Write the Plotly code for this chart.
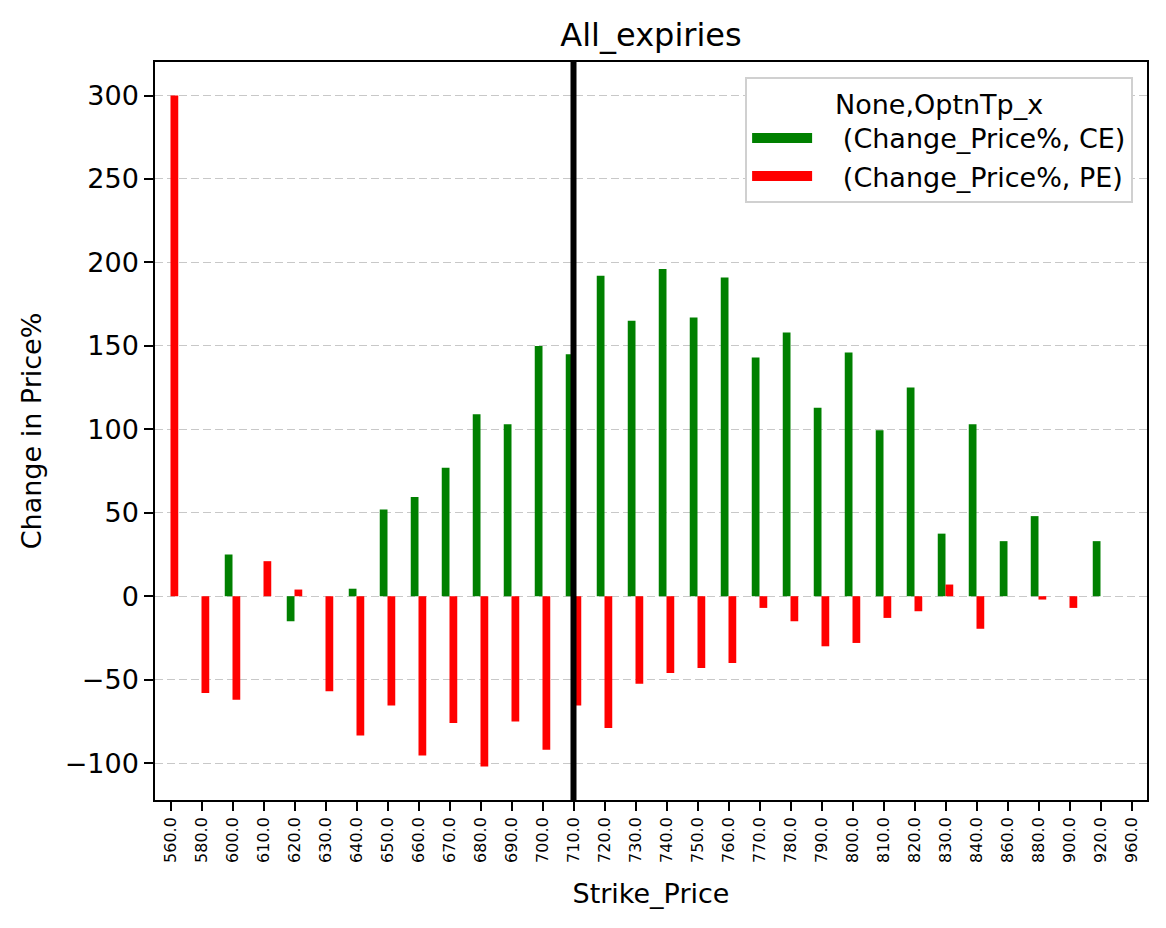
"""Change in option price per strike, CE vs PE, across all expiries."""

import plotly.graph_objects as go

PLOT_TITLE = "All_expiries"
XAXIS_TITLE = "Strike_Price"
YAXIS_TITLE = "Change in Price%"
LEGEND_TITLE = "None,OptnTp_x"
CE_NAME = "(Change_Price%, CE)"
PE_NAME = "(Change_Price%, PE)"
CE_COLOR = "green"
PE_COLOR = "red"
FONT = "DejaVu Sans"
BASE_SIZE = 27
TITLE_SIZE = 32
XTICK_SIZE = 16
LEGEND_PAD = "\u00a0\u00a0\u00a0"

strikes = [560, 580, 600, 610, 620, 630, 640, 650, 660, 670, 680, 690, 700,
           710, 720, 730, 740, 750, 760, 770, 780, 790, 800, 810, 820, 830,
           840, 860, 880, 900, 920, 960]
ce_change = [None, None, 25, None, -15, None, 4.5, 52, 59.5, 77, 109, 103, 150,
             145, 192, 165, 196, 167, 191, 143, 158, 113, 146, 99.5, 125, 37.5,
             103, 33, 48, None, 33, None]
pe_change = [300, -58, -62, 21, 4, -57, -83.5, -65.5, -95.5, -76, -102, -75,
             -92, -65.5, -79, -52.5, -46, -43, -40, -7, -15, -30, -28, -13, -9,
             7, -19.5, None, -2, -7, None, None]
current_strike = 710
y_ticks = [-100, -50, 0, 50, 100, 150, 200, 250, 300]

labels = [f"{s:.1f}" for s in strikes]
y_tick_text = [str(v).replace("-", "\u2212") for v in y_ticks]

fig = go.Figure()
for name, values, color in [(CE_NAME, ce_change, CE_COLOR),
                            (PE_NAME, pe_change, PE_COLOR)]:
    fig.add_trace(go.Bar(x=labels, y=values, name=name, legendgroup=name,
                         showlegend=False, marker_color=color,
                         marker_line_width=0))
    # Empty line trace, only there for a wide matplotlib-like legend patch.
    fig.add_trace(go.Scatter(x=[None], y=[None], mode="lines",
                             name=LEGEND_PAD + name, legendgroup=name,
                             line={"color": color, "width": 18}))

# Thick line marking the current strike.
fig.add_shape(type="line", xref="x", yref="paper",
              x0=strikes.index(current_strike), x1=strikes.index(current_strike),
              y0=0, y1=1, line={"color": "black", "width": 6})

# The page puts the figure 8px in from the top-left corner.
fig.update_layout(
    width=1158,
    height=920,
    margin={"l": 147, "r": 19, "t": 54, "b": 128},
    paper_bgcolor="white",
    plot_bgcolor="white",
    font={"family": FONT, "color": "black", "size": BASE_SIZE},
    title={"text": PLOT_TITLE, "x": 0.5, "xref": "paper", "xanchor": "center",
           "y": 0.971, "yanchor": "middle", "font": {"size": TITLE_SIZE}},
    barmode="group",
    bargap=0.5,
    bargroupgap=0,
    legend={
        "title": {"text": LEGEND_TITLE, "side": "top center",
                  "font": {"family": FONT, "size": BASE_SIZE}},
        "x": 0.986, "xanchor": "right",
        "y": 0.98, "yanchor": "top",
        "bgcolor": "white",
        "bordercolor": "#d0d0d0",
        "borderwidth": 2,
        "font": {"size": BASE_SIZE},
        "itemwidth": 60,
        "tracegroupgap": 0,
    },
)

fig.update_xaxes(
    type="category",
    range=[-0.5, len(strikes) - 0.5],
    title={"text": XAXIS_TITLE, "font": {"size": BASE_SIZE}, "standoff": 22},
    tickangle=-90,
    tickfont={"size": XTICK_SIZE},
    ticks="outside",
    ticklen=9,
    tickwidth=1.5,
    tickcolor="black",
    showline=True,
    linecolor="black",
    linewidth=1.5,
    mirror=True,
    showgrid=False,
)

fig.update_yaxes(
    range=[-122.1, 320.1],
    tickvals=y_ticks,
    ticktext=y_tick_text,
    title={"text": YAXIS_TITLE, "font": {"size": BASE_SIZE}, "standoff": 15},
    tickfont={"size": BASE_SIZE},
    ticks="outside",
    ticklen=9,
    tickwidth=1.5,
    tickcolor="black",
    showline=True,
    linecolor="black",
    linewidth=1.5,
    mirror=True,
    showgrid=True,
    gridcolor="#c8c8c8",
    griddash="8px,4px",
    gridwidth=1.2,
    zeroline=False,
)

fig.write_html("out.html")
